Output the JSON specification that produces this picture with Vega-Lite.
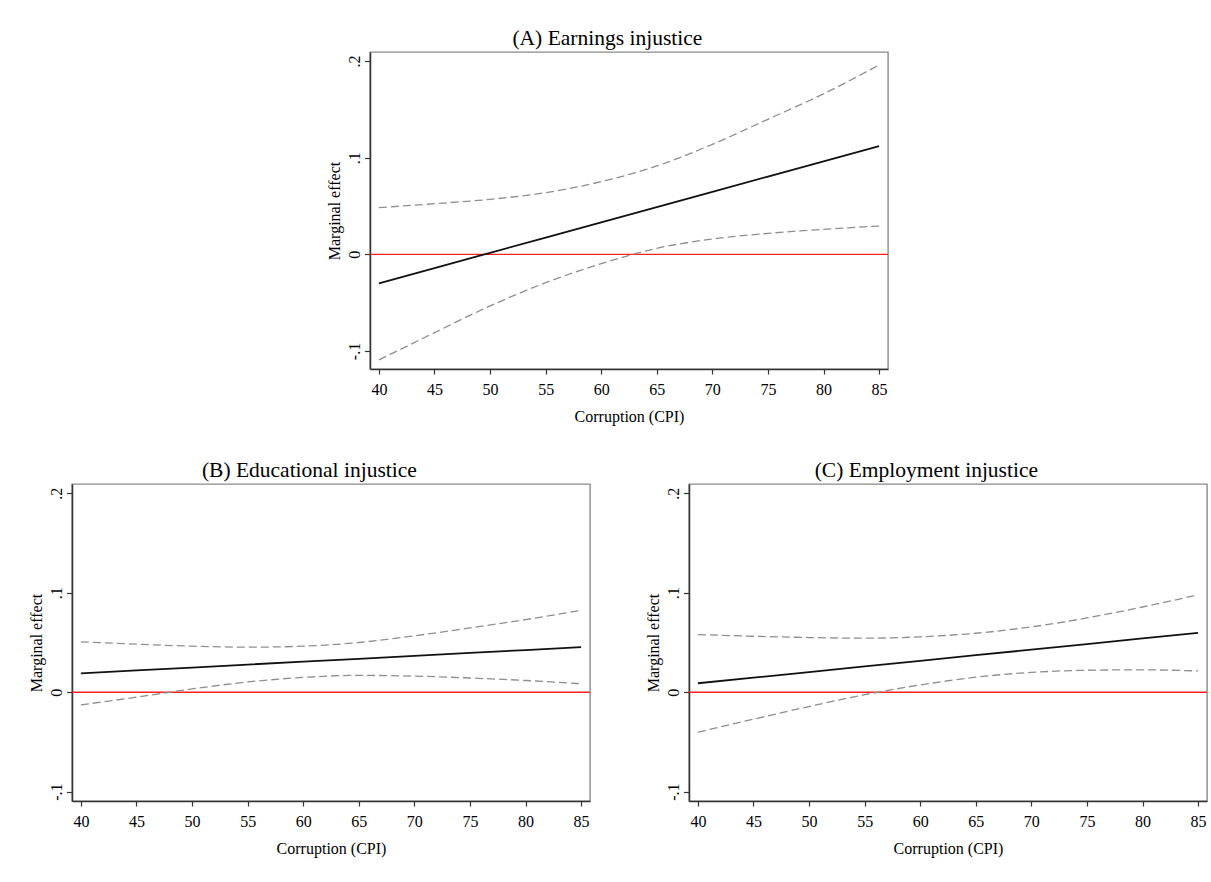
{
  "$schema": "https://vega.github.io/schema/vega-lite/v6.json",
  "padding": {"left": 27, "top": 26, "right": 2, "bottom": 2},
  "background": "white",
  "bounds": "full",
  "spacing": 32,
  "config": {
    "font": "Liberation Serif",
    "view": {"stroke": "#8a8a8a", "strokeWidth": 1.4},
    "title": {"font": "Liberation Serif", "fontSize": 21.5, "fontWeight": "normal", "color": "#000", "offset": 3, "baseline": "alphabetic", "anchor": "middle", "frame": "bounds"},
    "axis": {"grid": false, "labelFont": "Liberation Serif", "titleFont": "Liberation Serif", "labelFontSize": 16, "titleFontSize": 16, "titleFontWeight": "normal", "labelColor": "#000", "titleColor": "#000", "domainColor": "#333", "domainWidth": 1.5, "tickColor": "#333", "tickWidth": 1.2, "labelOverlap": false},
    "axisX": {"tickSize": 5, "labelPadding": 7.5, "titlePadding": 11},
    "axisY": {"tickSize": 5.5, "labelPadding": 5.5, "titlePadding": 4, "labelAngle": -90, "labelAlign": "center", "labelBaseline": "alphabetic"}
  },
  "datasets": {
    "curves": [
      {"panel": "A", "cpi": 40, "estimate": -0.0300, "lower": -0.1093, "upper": 0.0483},
      {"panel": "A", "cpi": 45, "estimate": -0.0142, "lower": -0.0810, "upper": 0.0524},
      {"panel": "A", "cpi": 50, "estimate": 0.0016, "lower": -0.0534, "upper": 0.0569},
      {"panel": "A", "cpi": 55, "estimate": 0.0173, "lower": -0.0293, "upper": 0.0638},
      {"panel": "A", "cpi": 60, "estimate": 0.0331, "lower": -0.0097, "upper": 0.0752},
      {"panel": "A", "cpi": 65, "estimate": 0.0489, "lower": 0.0062, "upper": 0.0914},
      {"panel": "A", "cpi": 70, "estimate": 0.0647, "lower": 0.0159, "upper": 0.1138},
      {"panel": "A", "cpi": 75, "estimate": 0.0805, "lower": 0.0217, "upper": 0.1397},
      {"panel": "A", "cpi": 80, "estimate": 0.0962, "lower": 0.0259, "upper": 0.1660},
      {"panel": "A", "cpi": 85, "estimate": 0.1120, "lower": 0.0293, "upper": 0.1959},
      {"panel": "B", "cpi": 40, "estimate": 0.0190, "lower": -0.0127, "upper": 0.0507},
      {"panel": "B", "cpi": 45, "estimate": 0.0219, "lower": -0.0050, "upper": 0.0483},
      {"panel": "B", "cpi": 50, "estimate": 0.0248, "lower": 0.0033, "upper": 0.0463},
      {"panel": "B", "cpi": 55, "estimate": 0.0278, "lower": 0.0103, "upper": 0.0453},
      {"panel": "B", "cpi": 60, "estimate": 0.0307, "lower": 0.0149, "upper": 0.0463},
      {"panel": "B", "cpi": 65, "estimate": 0.0336, "lower": 0.0169, "upper": 0.0500},
      {"panel": "B", "cpi": 70, "estimate": 0.0365, "lower": 0.0162, "upper": 0.0567},
      {"panel": "B", "cpi": 75, "estimate": 0.0395, "lower": 0.0143, "upper": 0.0647},
      {"panel": "B", "cpi": 80, "estimate": 0.0424, "lower": 0.0118, "upper": 0.0730},
      {"panel": "B", "cpi": 85, "estimate": 0.0453, "lower": 0.0085, "upper": 0.0823},
      {"panel": "C", "cpi": 40, "estimate": 0.0090, "lower": -0.0402, "upper": 0.0580},
      {"panel": "C", "cpi": 45, "estimate": 0.0146, "lower": -0.0271, "upper": 0.0563},
      {"panel": "C", "cpi": 50, "estimate": 0.0203, "lower": -0.0144, "upper": 0.0550},
      {"panel": "C", "cpi": 55, "estimate": 0.0259, "lower": -0.0025, "upper": 0.0543},
      {"panel": "C", "cpi": 60, "estimate": 0.0315, "lower": 0.0073, "upper": 0.0557},
      {"panel": "C", "cpi": 65, "estimate": 0.0372, "lower": 0.0151, "upper": 0.0593},
      {"panel": "C", "cpi": 70, "estimate": 0.0428, "lower": 0.0199, "upper": 0.0657},
      {"panel": "C", "cpi": 75, "estimate": 0.0484, "lower": 0.0221, "upper": 0.0747},
      {"panel": "C", "cpi": 80, "estimate": 0.0541, "lower": 0.0225, "upper": 0.0857},
      {"panel": "C", "cpi": 85, "estimate": 0.0597, "lower": 0.0214, "upper": 0.0980}
    ]
  },
  "vconcat": [
    {
      "bounds": "flush",
      "spacing": 0,
      "hconcat": [
        {"width": 298, "height": 317, "view": {"stroke": null}, "data": {"values": []}, "mark": "point", "encoding": {}},
        {
          "width": 518, "height": 317,
          "title": "(A) Earnings injustice",
          "layer": [
            {"data": {"values": [{"zero": 0}]}, "mark": {"type": "rule", "color": "#ff2020", "strokeWidth": 1.4},
             "encoding": {"y": {"field": "zero", "type": "quantitative", "scale": {"domain": [-0.1186, 0.2093], "nice": false, "zero": false}, "axis": {"title": "Marginal effect", "values": [-0.1, 0, 0.1, 0.2], "labelExpr": "datum.value == 0 ? '0' : (datum.value < 0 ? '-' : '') + replace(format(abs(datum.value), '.1f'), '0.', '.')"}}}},
            {"data": {"name": "curves"}, "transform": [{"filter": "datum.panel == 'A'"}],
             "mark": {"type": "line", "color": "#8e8e8e", "strokeDash": [8, 4], "strokeWidth": 1.3, "interpolate": "monotone"},
             "encoding": {"x": {"field": "cpi", "type": "quantitative", "scale": {"domain": [39.2, 85.8], "nice": false, "zero": false}, "axis": {"title": "Corruption (CPI)", "values": [40, 45, 50, 55, 60, 65, 70, 75, 80, 85]}},
                          "y": {"field": "lower", "type": "quantitative", "scale": {"domain": [-0.1186, 0.2093], "nice": false, "zero": false}, "axis": {"title": "Marginal effect", "values": [-0.1, 0, 0.1, 0.2], "labelExpr": "datum.value == 0 ? '0' : (datum.value < 0 ? '-' : '') + replace(format(abs(datum.value), '.1f'), '0.', '.')"}}}},
            {"data": {"name": "curves"}, "transform": [{"filter": "datum.panel == 'A'"}],
             "mark": {"type": "line", "color": "#8e8e8e", "strokeDash": [8, 4], "strokeWidth": 1.3, "interpolate": "monotone"},
             "encoding": {"x": {"field": "cpi", "type": "quantitative", "scale": {"domain": [39.2, 85.8], "nice": false, "zero": false}, "axis": {"title": "Corruption (CPI)", "values": [40, 45, 50, 55, 60, 65, 70, 75, 80, 85]}},
                          "y": {"field": "upper", "type": "quantitative", "scale": {"domain": [-0.1186, 0.2093], "nice": false, "zero": false}, "axis": {"title": "Marginal effect", "values": [-0.1, 0, 0.1, 0.2], "labelExpr": "datum.value == 0 ? '0' : (datum.value < 0 ? '-' : '') + replace(format(abs(datum.value), '.1f'), '0.', '.')"}}}},
            {"data": {"name": "curves"}, "transform": [{"filter": "datum.panel == 'A'"}],
             "mark": {"type": "line", "color": "#111111", "strokeWidth": 1.8},
             "encoding": {"x": {"field": "cpi", "type": "quantitative", "scale": {"domain": [39.2, 85.8], "nice": false, "zero": false}, "axis": {"title": "Corruption (CPI)", "values": [40, 45, 50, 55, 60, 65, 70, 75, 80, 85]}},
                          "y": {"field": "estimate", "type": "quantitative", "scale": {"domain": [-0.1186, 0.2093], "nice": false, "zero": false}, "axis": {"title": "Marginal effect", "values": [-0.1, 0, 0.1, 0.2], "labelExpr": "datum.value == 0 ? '0' : (datum.value < 0 ? '-' : '') + replace(format(abs(datum.value), '.1f'), '0.', '.')"}}}}
          ]
        }
      ]
    },
    {
      "bounds": "flush",
      "spacing": 99,
      "hconcat": [
        {
          "width": 518, "height": 317,
          "title": "(B) Educational injustice",
          "layer": [
            {"data": {"values": [{"zero": 0}]}, "mark": {"type": "rule", "color": "#ff2020", "strokeWidth": 1.4},
             "encoding": {"y": {"field": "zero", "type": "quantitative", "scale": {"domain": [-0.1094, 0.2094], "nice": false, "zero": false}, "axis": {"title": "Marginal effect", "values": [-0.1, 0, 0.1, 0.2], "labelExpr": "datum.value == 0 ? '0' : (datum.value < 0 ? '-' : '') + replace(format(abs(datum.value), '.1f'), '0.', '.')"}}}},
            {"data": {"name": "curves"}, "transform": [{"filter": "datum.panel == 'B'"}],
             "mark": {"type": "line", "color": "#8e8e8e", "strokeDash": [8, 4], "strokeWidth": 1.3, "interpolate": "monotone"},
             "encoding": {"x": {"field": "cpi", "type": "quantitative", "scale": {"domain": [39.2, 85.8], "nice": false, "zero": false}, "axis": {"title": "Corruption (CPI)", "values": [40, 45, 50, 55, 60, 65, 70, 75, 80, 85]}},
                          "y": {"field": "lower", "type": "quantitative", "scale": {"domain": [-0.1094, 0.2094], "nice": false, "zero": false}, "axis": {"title": "Marginal effect", "values": [-0.1, 0, 0.1, 0.2], "labelExpr": "datum.value == 0 ? '0' : (datum.value < 0 ? '-' : '') + replace(format(abs(datum.value), '.1f'), '0.', '.')"}}}},
            {"data": {"name": "curves"}, "transform": [{"filter": "datum.panel == 'B'"}],
             "mark": {"type": "line", "color": "#8e8e8e", "strokeDash": [8, 4], "strokeWidth": 1.3, "interpolate": "monotone"},
             "encoding": {"x": {"field": "cpi", "type": "quantitative", "scale": {"domain": [39.2, 85.8], "nice": false, "zero": false}, "axis": {"title": "Corruption (CPI)", "values": [40, 45, 50, 55, 60, 65, 70, 75, 80, 85]}},
                          "y": {"field": "upper", "type": "quantitative", "scale": {"domain": [-0.1094, 0.2094], "nice": false, "zero": false}, "axis": {"title": "Marginal effect", "values": [-0.1, 0, 0.1, 0.2], "labelExpr": "datum.value == 0 ? '0' : (datum.value < 0 ? '-' : '') + replace(format(abs(datum.value), '.1f'), '0.', '.')"}}}},
            {"data": {"name": "curves"}, "transform": [{"filter": "datum.panel == 'B'"}],
             "mark": {"type": "line", "color": "#111111", "strokeWidth": 1.8},
             "encoding": {"x": {"field": "cpi", "type": "quantitative", "scale": {"domain": [39.2, 85.8], "nice": false, "zero": false}, "axis": {"title": "Corruption (CPI)", "values": [40, 45, 50, 55, 60, 65, 70, 75, 80, 85]}},
                          "y": {"field": "estimate", "type": "quantitative", "scale": {"domain": [-0.1094, 0.2094], "nice": false, "zero": false}, "axis": {"title": "Marginal effect", "values": [-0.1, 0, 0.1, 0.2], "labelExpr": "datum.value == 0 ? '0' : (datum.value < 0 ? '-' : '') + replace(format(abs(datum.value), '.1f'), '0.', '.')"}}}}
          ]
        },
        {
          "width": 518, "height": 317,
          "title": "(C) Employment injustice",
          "layer": [
            {"data": {"values": [{"zero": 0}]}, "mark": {"type": "rule", "color": "#ff2020", "strokeWidth": 1.4},
             "encoding": {"y": {"field": "zero", "type": "quantitative", "scale": {"domain": [-0.1094, 0.2094], "nice": false, "zero": false}, "axis": {"title": "Marginal effect", "values": [-0.1, 0, 0.1, 0.2], "labelExpr": "datum.value == 0 ? '0' : (datum.value < 0 ? '-' : '') + replace(format(abs(datum.value), '.1f'), '0.', '.')"}}}},
            {"data": {"name": "curves"}, "transform": [{"filter": "datum.panel == 'C'"}],
             "mark": {"type": "line", "color": "#8e8e8e", "strokeDash": [8, 4], "strokeWidth": 1.3, "interpolate": "monotone"},
             "encoding": {"x": {"field": "cpi", "type": "quantitative", "scale": {"domain": [39.2, 85.8], "nice": false, "zero": false}, "axis": {"title": "Corruption (CPI)", "values": [40, 45, 50, 55, 60, 65, 70, 75, 80, 85]}},
                          "y": {"field": "lower", "type": "quantitative", "scale": {"domain": [-0.1094, 0.2094], "nice": false, "zero": false}, "axis": {"title": "Marginal effect", "values": [-0.1, 0, 0.1, 0.2], "labelExpr": "datum.value == 0 ? '0' : (datum.value < 0 ? '-' : '') + replace(format(abs(datum.value), '.1f'), '0.', '.')"}}}},
            {"data": {"name": "curves"}, "transform": [{"filter": "datum.panel == 'C'"}],
             "mark": {"type": "line", "color": "#8e8e8e", "strokeDash": [8, 4], "strokeWidth": 1.3, "interpolate": "monotone"},
             "encoding": {"x": {"field": "cpi", "type": "quantitative", "scale": {"domain": [39.2, 85.8], "nice": false, "zero": false}, "axis": {"title": "Corruption (CPI)", "values": [40, 45, 50, 55, 60, 65, 70, 75, 80, 85]}},
                          "y": {"field": "upper", "type": "quantitative", "scale": {"domain": [-0.1094, 0.2094], "nice": false, "zero": false}, "axis": {"title": "Marginal effect", "values": [-0.1, 0, 0.1, 0.2], "labelExpr": "datum.value == 0 ? '0' : (datum.value < 0 ? '-' : '') + replace(format(abs(datum.value), '.1f'), '0.', '.')"}}}},
            {"data": {"name": "curves"}, "transform": [{"filter": "datum.panel == 'C'"}],
             "mark": {"type": "line", "color": "#111111", "strokeWidth": 1.8},
             "encoding": {"x": {"field": "cpi", "type": "quantitative", "scale": {"domain": [39.2, 85.8], "nice": false, "zero": false}, "axis": {"title": "Corruption (CPI)", "values": [40, 45, 50, 55, 60, 65, 70, 75, 80, 85]}},
                          "y": {"field": "estimate", "type": "quantitative", "scale": {"domain": [-0.1094, 0.2094], "nice": false, "zero": false}, "axis": {"title": "Marginal effect", "values": [-0.1, 0, 0.1, 0.2], "labelExpr": "datum.value == 0 ? '0' : (datum.value < 0 ? '-' : '') + replace(format(abs(datum.value), '.1f'), '0.', '.')"}}}}
          ]
        }
      ]
    }
  ]
}
